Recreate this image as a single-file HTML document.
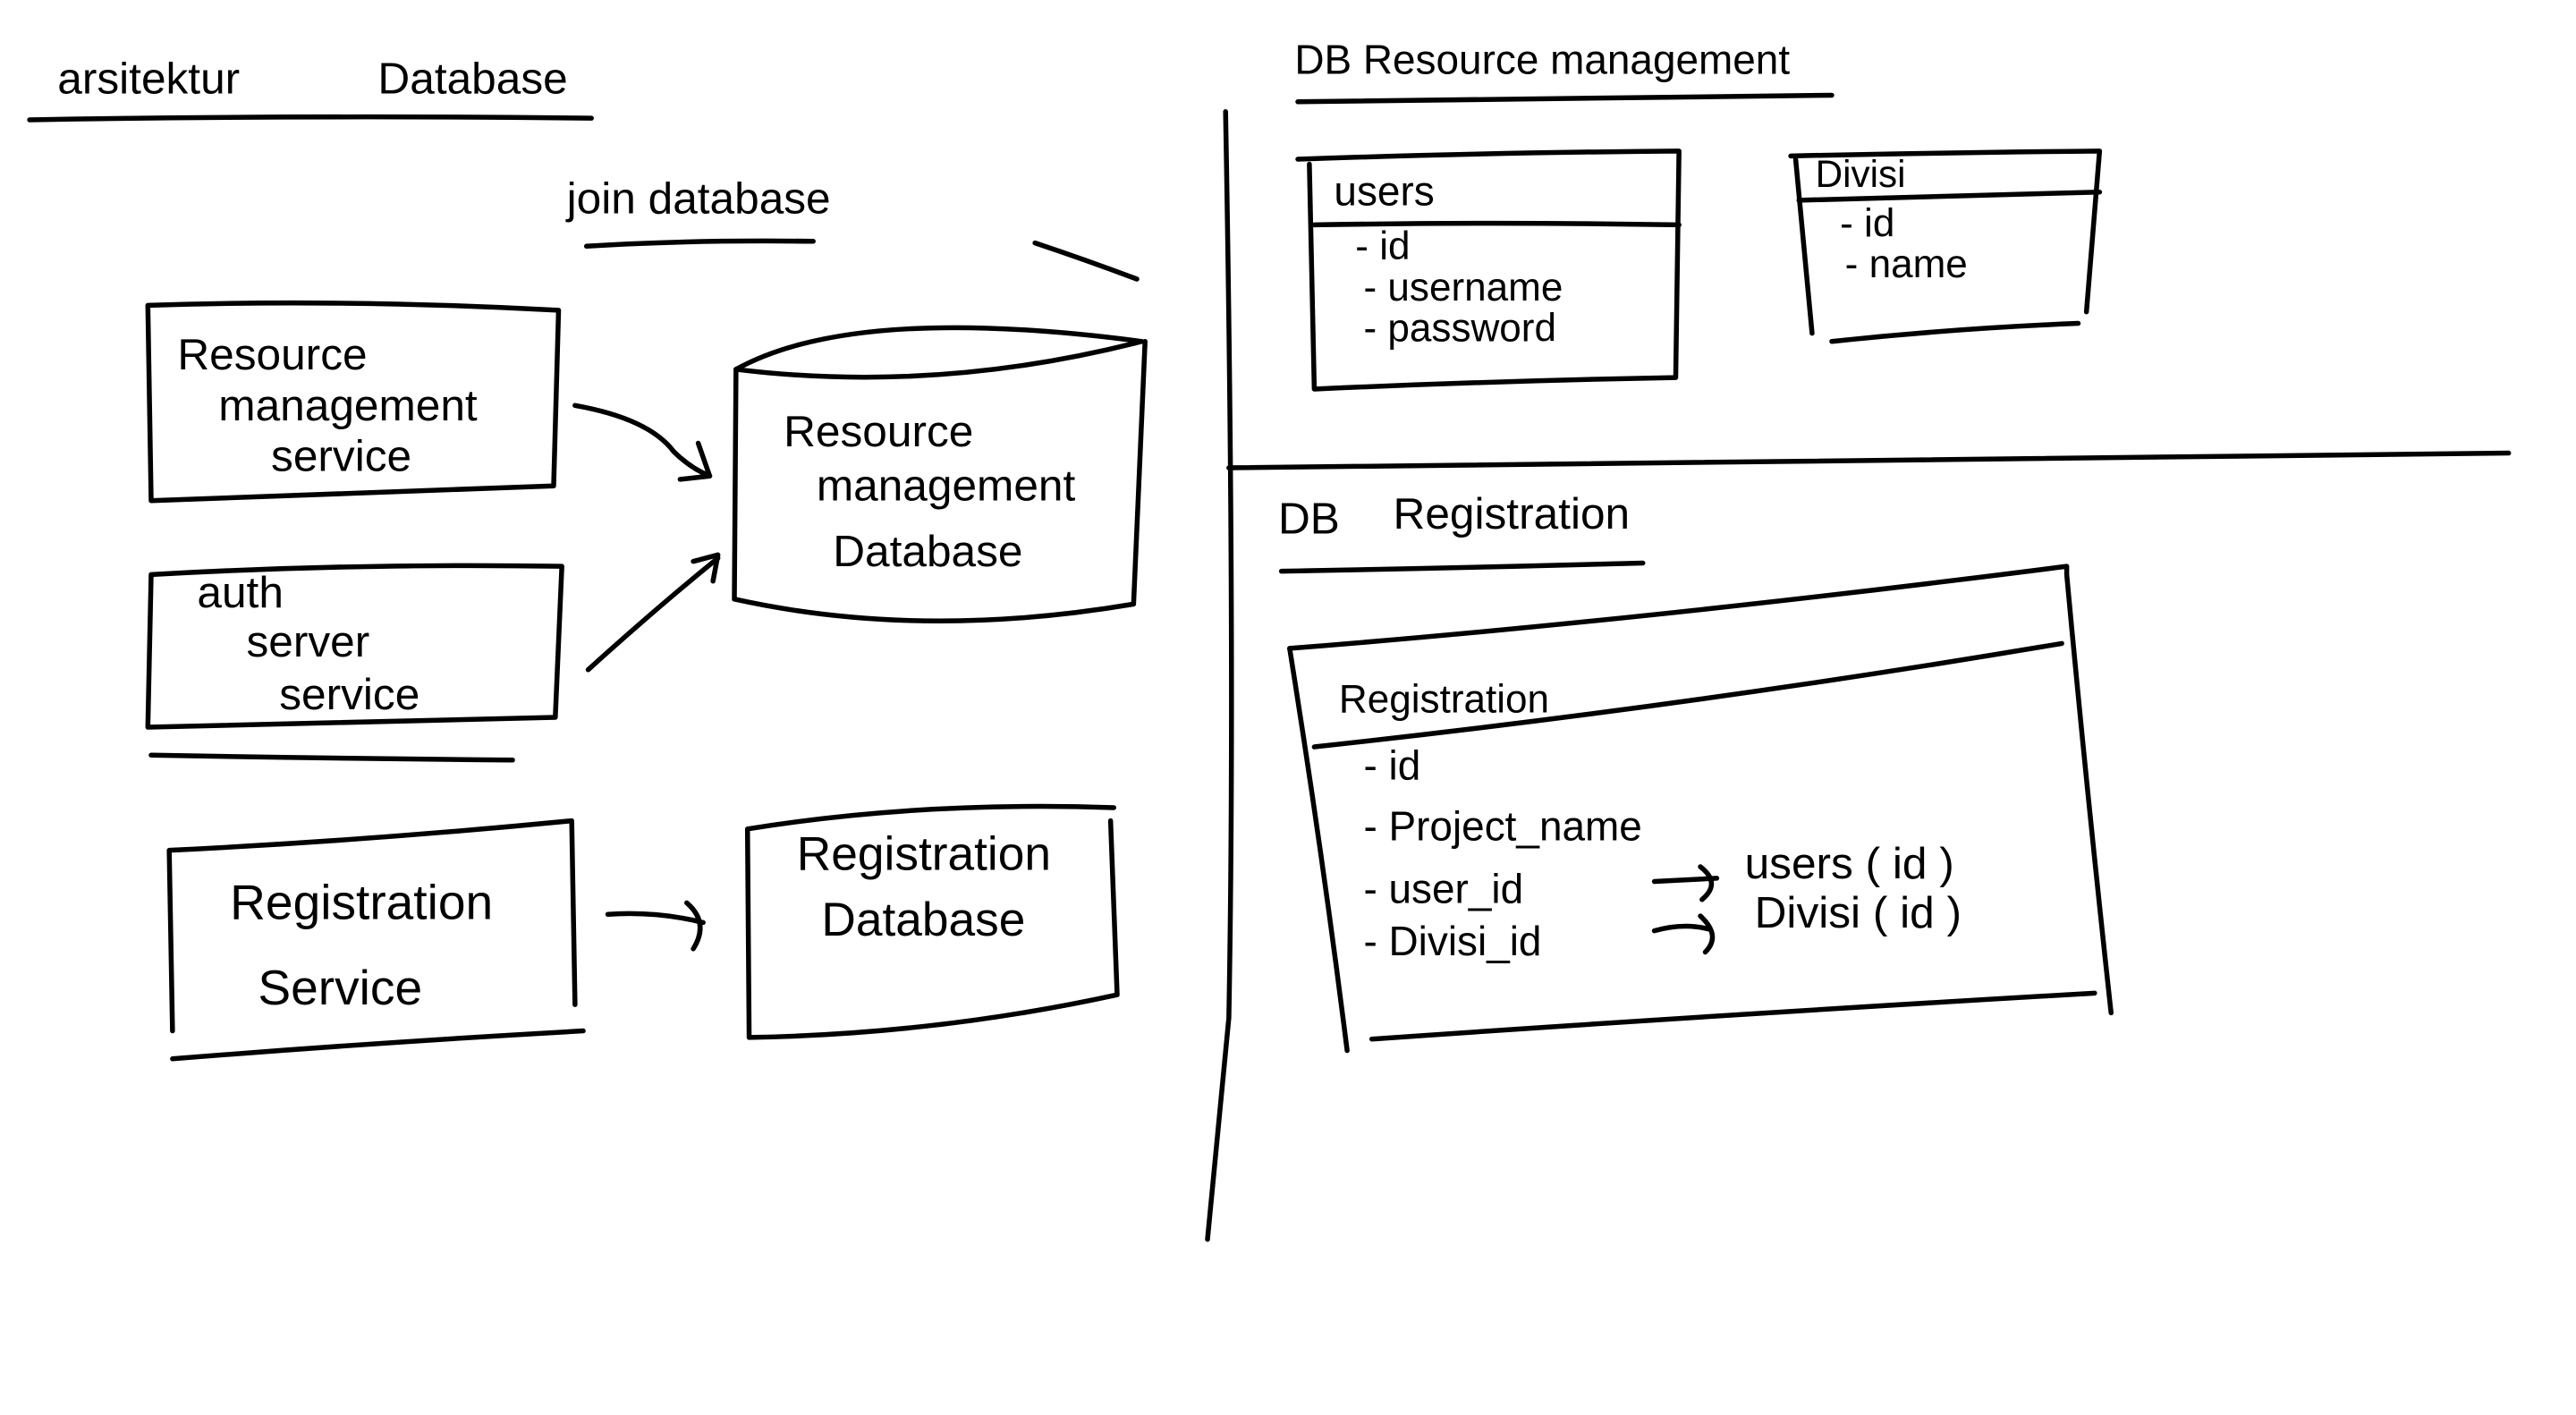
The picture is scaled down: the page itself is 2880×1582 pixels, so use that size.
<!DOCTYPE html>
<html><head><meta charset="utf-8"><style>
html,body{margin:0;padding:0;background:#fff;}
svg{display:block}
text{font-family:"Liberation Sans",sans-serif;fill:#000;}
</style></head><body>
<svg width="2880" height="1582" viewBox="0 0 1568 862" preserveAspectRatio="none" xmlns="http://www.w3.org/2000/svg">
<g fill="none" stroke="#000" stroke-width="3" stroke-linecap="round" stroke-linejoin="round">
<path d="M18 73 Q190 70 360 72"/>
<path d="M357 150 Q420 146 495 147"/>
<path d="M630 148 Q660 158 692 170"/>
<path d="M90 186 Q210 182 340 189 L337 296 Q215 300 92 305 Z"/>
<path d="M92 350 Q215 343 342 345 L338 437 Q215 440 90 443 Z"/>
<path d="M92 460 Q200 462 312 463"/>
<path d="M103 518 Q225 512 348 500 L350 612 M103 518 L105 628"/>
<path d="M105 645 Q230 635 355 628"/>
<path d="M448 225 Q520 185 695 208 M448 225 Q570 240 695 208"/>
<path d="M448 225 L447 365 Q560 390 690 368 L697 208"/>
<path d="M455 505 Q560 488 678 492 M455 505 L456 632 Q570 630 680 606 L676 500"/>
<path d="M350 247 Q395 255 410 275 Q420 285 432 290"/>
<path d="M425 270 L432 290 L414 292"/>
<path d="M358 408 Q400 370 437 340"/>
<path d="M422 342 L437 338 L434 354"/>
<path d="M370 557 Q400 555 428 562"/>
<path d="M418 550 Q432 562 422 578"/>
<path d="M746 68 Q752 400 748 620 Q742 680 735 755"/>
<path d="M748 285 Q1100 280 1527 276"/>
<path d="M790 62 Q950 60 1115 58"/>
<path d="M790 97 Q900 93 1022 92 L1020 230 Q910 232 800 237 L797 100"/>
<path d="M800 137 Q910 135 1022 137"/>
<path d="M1090 95 Q1180 93 1278 92 L1270 190 M1093 97 L1103 203"/>
<path d="M1095 122 Q1180 120 1278 117"/>
<path d="M1115 208 Q1190 200 1265 197"/>
<path d="M780 348 Q890 346 1000 343"/>
<path d="M785 395 Q1000 378 1258 345 L1258 350 Q1270 480 1285 617"/>
<path d="M785 395 Q805 520 820 640"/>
<path d="M800 455 Q1030 430 1255 392"/>
<path d="M835 633 Q1050 618 1275 605"/>
<path d="M1007 537 L1045 535 M1035 528 Q1048 538 1036 548"/>
<path d="M1007 567 Q1025 562 1040 566 M1035 558 Q1048 570 1038 580"/>
</g>
<g font-size="27">
<text x="35" y="57">arsitektur</text>
<text x="230" y="57">Database</text>
<text x="345" y="130">join database</text>
<text x="108" y="225">Resource</text>
<text x="133" y="256">management</text>
<text x="165" y="287">service</text>
<text x="120" y="370">auth</text>
<text x="150" y="400">server</text>
<text x="170" y="432">service</text>
<text x="140" y="560" font-size="30">Registration</text>
<text x="157" y="612" font-size="30">Service</text>
<text x="477" y="272">Resource</text>
<text x="497" y="305">management</text>
<text x="507" y="345">Database</text>
<text x="485" y="530" font-size="29">Registration</text>
<text x="500" y="570" font-size="29">Database</text>
<text x="788" y="45" font-size="25">DB Resource management</text>
<text x="812" y="125" font-size="25">users</text>
<text x="825" y="158" font-size="24">- id</text>
<text x="830" y="183" font-size="24">- username</text>
<text x="830" y="208" font-size="24">- password</text>
<text x="1105" y="114" font-size="23">Divisi</text>
<text x="1120" y="144" font-size="24">- id</text>
<text x="1123" y="169" font-size="24">- name</text>
<text x="778" y="325" font-size="27">DB</text>
<text x="848" y="322" font-size="27">Registration</text>
<text x="815" y="434" font-size="24">Registration</text>
<text x="830" y="475" font-size="25">- id</text>
<text x="830" y="512" font-size="25">- Project_name</text>
<text x="830" y="550" font-size="25">- user_id</text>
<text x="1062" y="535" font-size="27">users ( id )</text>
<text x="830" y="582" font-size="25">- Divisi_id</text>
<text x="1068" y="565" font-size="27">Divisi ( id )</text>
</g>
</svg>
</body></html>
